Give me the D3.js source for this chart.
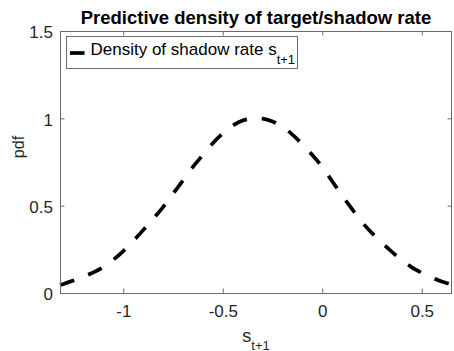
<!DOCTYPE html>
<html>
<head>
<meta charset="utf-8">
<script src="https://cdn.jsdelivr.net/npm/d3@7"></script>
<style>
  html, body { margin: 0; padding: 0; background: #fff; }
  svg { display: block; font-family: "Liberation Sans", Arial, Helvetica, sans-serif; }
</style>
</head>
<body>
<svg id="chart" width="454" height="351"></svg>
<script>
// Predictive density of the shadow rate s_{t+1}, scaled so the peak is 1
const sValues = [-1.318, -1.3, -1.25, -1.2, -1.15, -1.1, -1.05, -1.0, -0.95, -0.9, -0.85, -0.8, -0.75,
                 -0.7, -0.65, -0.6, -0.55, -0.5, -0.45, -0.4, -0.35, -0.33, -0.3, -0.25, -0.2, -0.15,
                 -0.1, -0.05, 0.0, 0.05, 0.1, 0.15, 0.2, 0.25, 0.3, 0.35, 0.4, 0.45, 0.5, 0.55, 0.6, 0.652];
const pdfValues = [0.046, 0.052, 0.072, 0.094, 0.118, 0.148, 0.190, 0.240, 0.298, 0.360, 0.425, 0.492, 0.568,
                   0.645, 0.722, 0.790, 0.858, 0.913, 0.958, 0.987, 0.999, 1.000, 0.998, 0.982, 0.952, 0.907,
                   0.852, 0.790, 0.722, 0.640, 0.558, 0.480, 0.405, 0.343, 0.288, 0.236, 0.188, 0.147, 0.115, 0.088, 0.066, 0.048];

const xTicks = [-1, -0.5, 0, 0.5];
const yTicks = [0, 0.5, 1, 1.5];
const xTickLabels = ["-1", "-0.5", "0", "0.5"];
const yTickLabels = ["0", "0.5", "1", "1.5"];

const titleText = "Predictive density of target/shadow rate";
const legendText = "Density of shadow rate s";
const legendSub = "t+1";

const svg = d3.select("#chart");
const box = { left: 60, right: 452, top: 31, bottom: 293 };

const x = d3.scaleLinear().domain([sValues[0], sValues[sValues.length - 1]]).range([box.left, box.right]);
const y = d3.scaleLinear().domain([0, 1.5]).range([box.bottom, box.top]);

const axisColor = "#6b6b6b";
const textColor = "#262626";
const tickLen = 4.5;

// white axes background
svg.append("rect")
  .attr("x", box.left).attr("y", box.top)
  .attr("width", box.right - box.left).attr("height", box.bottom - box.top)
  .attr("fill", "#fff");

// density curve (dashed)
const line = d3.line()
  .x((d, i) => x(sValues[i]))
  .y((d, i) => y(pdfValues[i]))
  .curve(d3.curveMonotoneX);

svg.append("path")
  .datum(pdfValues)
  .attr("d", line)
  .attr("fill", "none")
  .attr("stroke", "#000")
  .attr("stroke-width", 3.7)
  .attr("stroke-dasharray", "15,15");

// axes: bottom and left with labels, top and right as mirrored ticks
const fmtX = (d, i) => xTickLabels[i];
const fmtY = (d, i) => yTickLabels[i];

const gx = svg.append("g").attr("transform", `translate(0,${box.bottom})`)
  .call(d3.axisBottom(x).tickValues(xTicks).tickFormat(fmtX).tickSizeInner(-tickLen).tickSizeOuter(0).tickPadding(12));
const gy = svg.append("g").attr("transform", `translate(${box.left},0)`)
  .call(d3.axisLeft(y).tickValues(yTicks).tickFormat(fmtY).tickSizeInner(-tickLen).tickSizeOuter(0).tickPadding(7));
const gxt = svg.append("g").attr("transform", `translate(0,${box.top})`)
  .call(d3.axisTop(x).tickValues(xTicks).tickFormat("").tickSizeInner(-tickLen).tickSizeOuter(0));
const gyr = svg.append("g").attr("transform", `translate(${box.right},0)`)
  .call(d3.axisRight(y).tickValues(yTicks).tickFormat("").tickSizeInner(-tickLen).tickSizeOuter(0));

[gx, gy, gxt, gyr].forEach(g => {
  g.select(".domain").remove();
  g.selectAll(".tick line").attr("stroke", axisColor);
});
gx.selectAll(".tick text").attr("fill", textColor).attr("font-size", 17).attr("dy", "0.71em");
gy.selectAll(".tick text").attr("fill", textColor).attr("font-size", 17).attr("dy", "0.4em");

// axes frame
svg.append("rect")
  .attr("x", box.left + 0.5).attr("y", box.top + 0.5)
  .attr("width", box.right - box.left - 1).attr("height", box.bottom - box.top)
  .attr("fill", "none").attr("stroke", axisColor).attr("stroke-width", 1);

// title
svg.append("text")
  .attr("x", (box.left + box.right) / 2).attr("y", 24)
  .attr("text-anchor", "middle").attr("font-size", 18.5).attr("font-weight", "bold")
  .attr("fill", "#000").text(titleText);

// x label: s with subscript t+1
const xl = svg.append("text")
  .attr("x", (box.left + box.right) / 2).attr("y", 342)
  .attr("text-anchor", "middle").attr("font-size", 18).attr("fill", textColor);
xl.append("tspan").text("s");
xl.append("tspan").attr("font-size", 13).attr("dy", 7.5).text("t+1");

// y label
svg.append("text")
  .attr("transform", "translate(24,147) rotate(-90)")
  .attr("text-anchor", "middle").attr("font-size", 16).attr("fill", textColor)
  .text("pdf");

// legend
const lg = svg.append("g");
lg.append("rect")
  .attr("x", 66.5).attr("y", 36.5).attr("width", 231).attr("height", 32)
  .attr("fill", "#fff").attr("stroke", axisColor).attr("stroke-width", 1);
lg.append("line")
  .attr("x1", 70).attr("x2", 84.5).attr("y1", 53).attr("y2", 53)
  .attr("stroke", "#000").attr("stroke-width", 3.7);
const lt = lg.append("text")
  .attr("x", 90.5).attr("y", 55.3).attr("font-size", 17).attr("fill", "#000");
lt.append("tspan").text(legendText);
lt.append("tspan").attr("font-size", 13).attr("dy", 9).text(legendSub);
</script>
</body>
</html>
